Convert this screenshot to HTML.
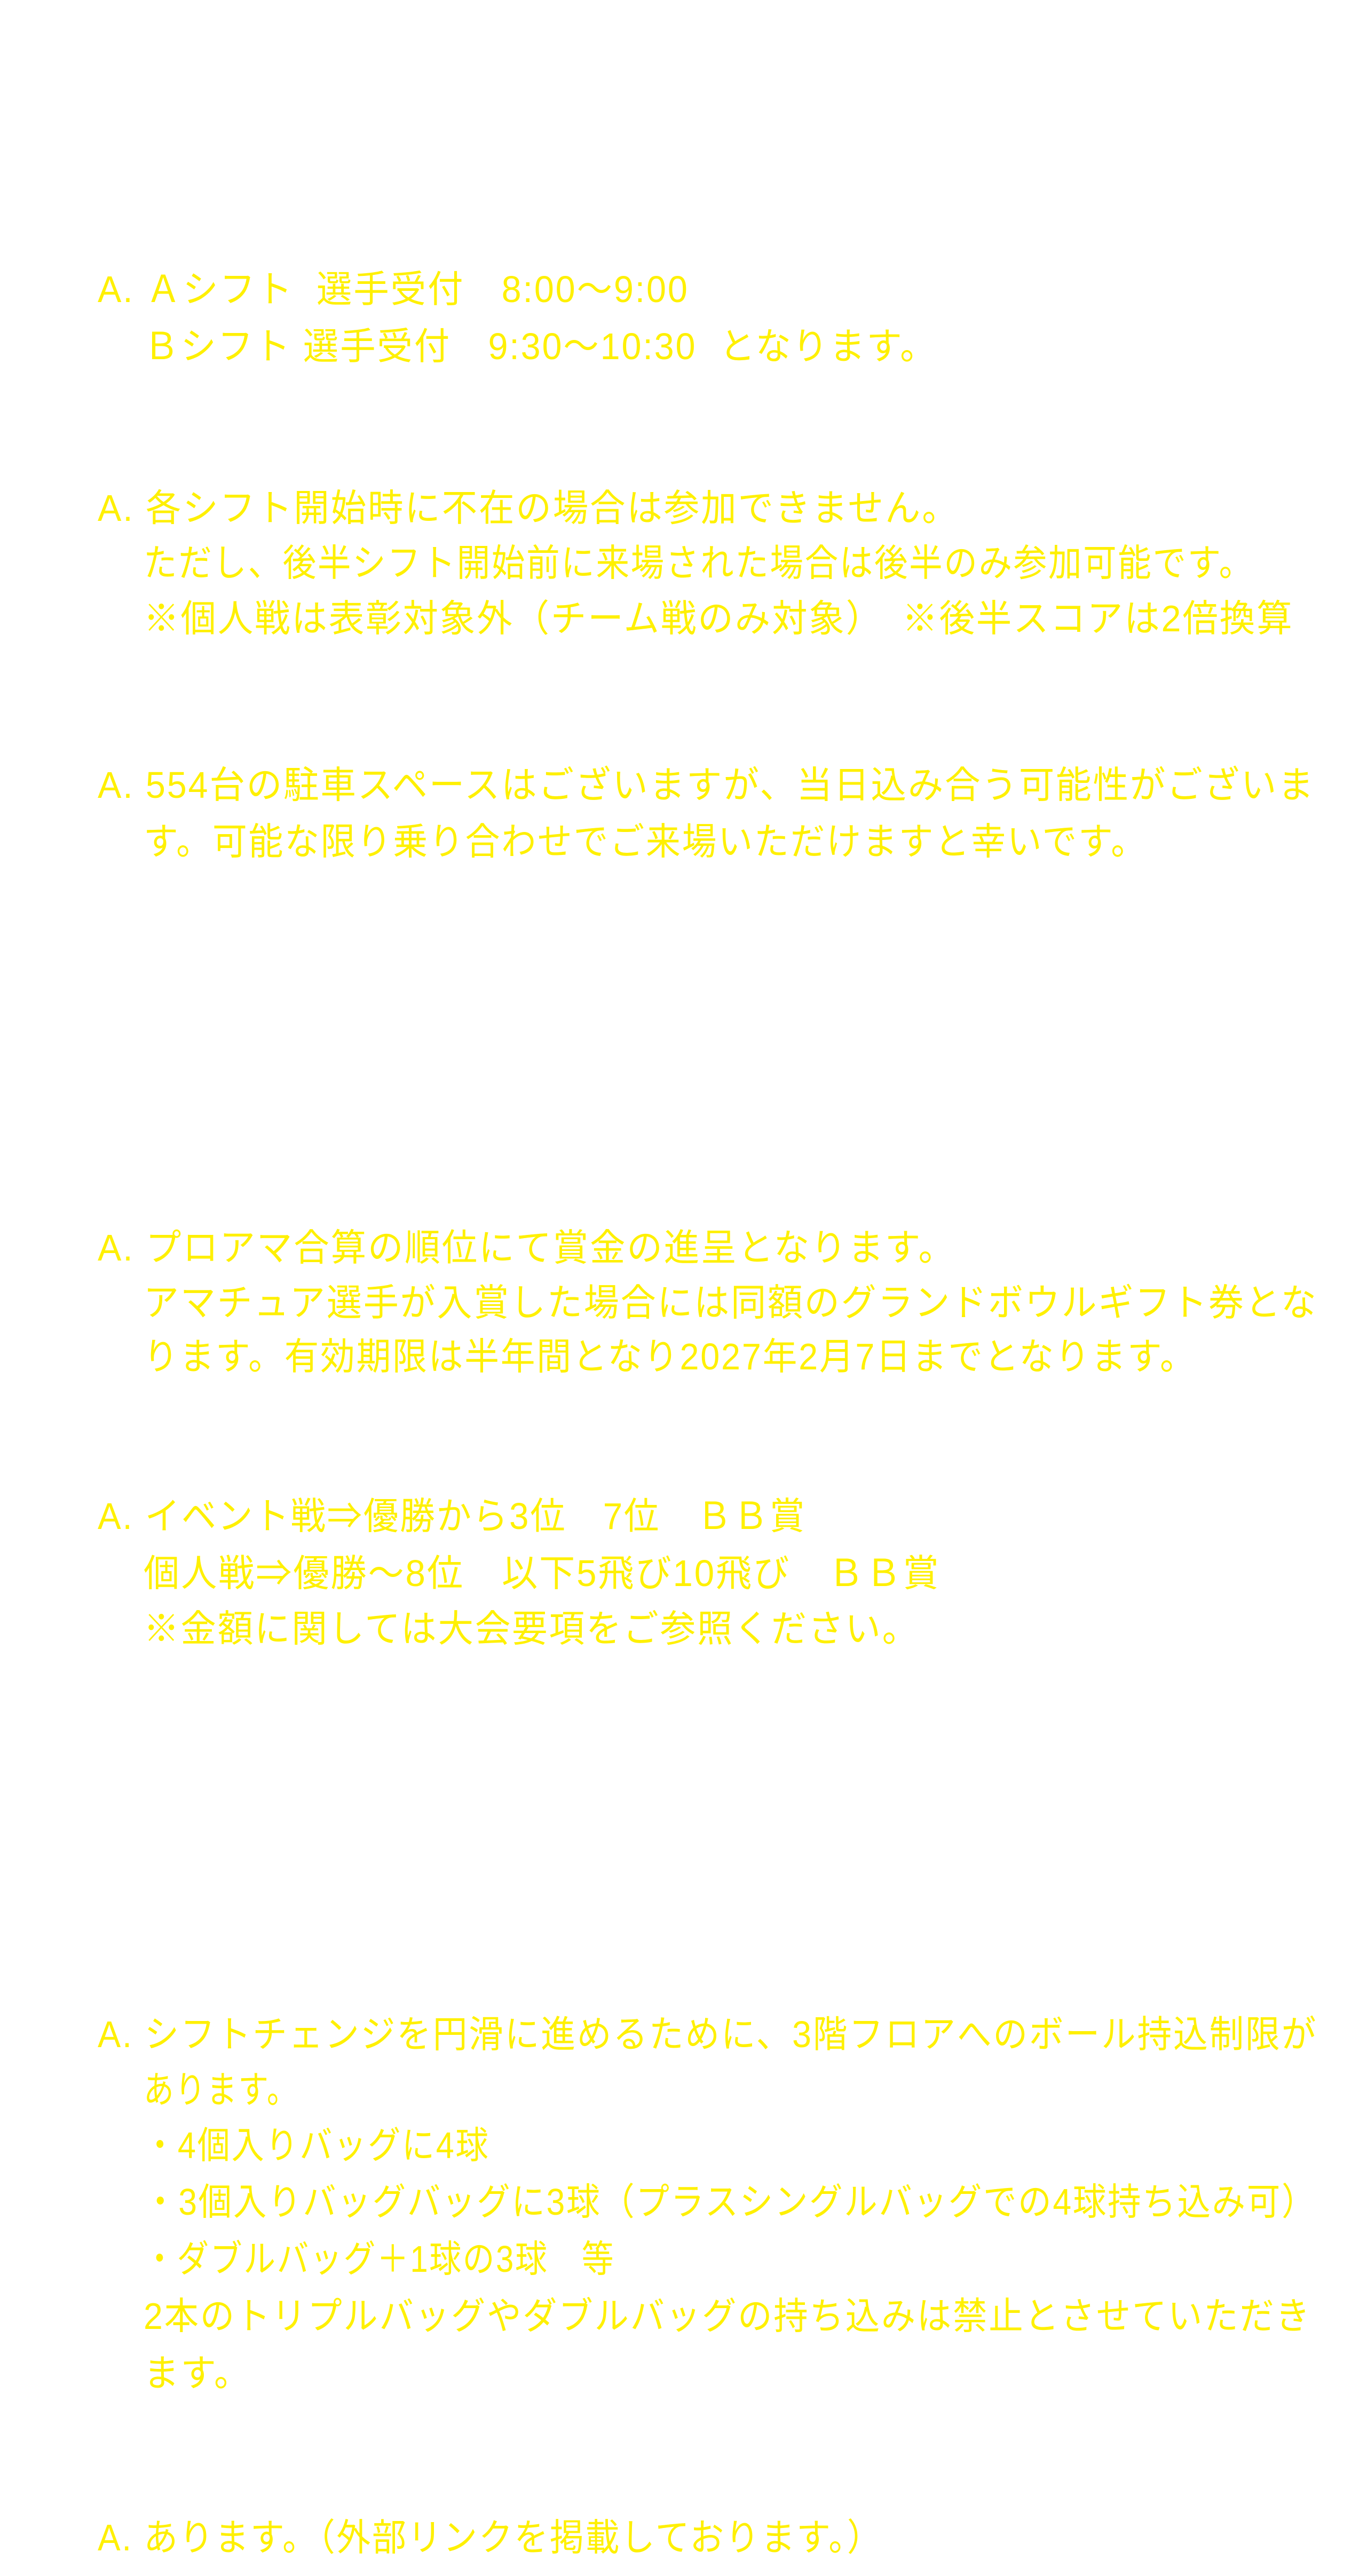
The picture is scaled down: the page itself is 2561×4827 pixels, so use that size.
<!DOCTYPE html>
<html><head><meta charset="utf-8"><style>
html,body{margin:0;padding:0;background:#fff;}
body{width:2561px;height:4827px;position:relative;overflow:hidden;}
.l{position:absolute;white-space:pre;color:#fff000;font-family:"Liberation Sans","Noto Sans CJK JP",sans-serif;font-size:70px;line-height:100px;height:100px;letter-spacing:3px;transform:scaleX(0.95);transform-origin:0 50%;}
.a{left:183px}.i{left:269px}
</style></head><body>
<div class="l a" style="top:492px">A. Ａシフト  選手受付　8:00～9:00</div>
<div class="l i" style="top:599px">Ｂシフト 選手受付　9:30～10:30  となります。</div>
<div class="l a" style="top:902px">A. 各シフト開始時に不在の場合は参加できません。</div>
<div class="l i" style="top:1005px;transform:scaleX(0.893)">ただし、後半シフト開始前に来場された場合は後半のみ参加可能です。</div>
<div class="l i" style="top:1109px">※個人戦は表彰対象外（チーム戦のみ対象）　※後半スコアは2倍換算</div>
<div class="l a" style="top:1421px">A. 554台の駐車スペースはございますが、当日込み合う可能性がございま</div>
<div class="l i" style="top:1527px;transform:scaleX(0.927)">す。可能な限り乗り合わせでご来場いただけますと幸いです。</div>
<div class="l a" style="top:2288px">A. プロアマ合算の順位にて賞金の進呈となります。</div>
<div class="l i" style="top:2391px;transform:scaleX(0.943)">アマチュア選手が入賞した場合には同額のグランドボウルギフト券とな</div>
<div class="l i" style="top:2492px;transform:scaleX(0.925)">ります。有効期限は半年間となり2027年2月7日までとなります。</div>
<div class="l a" style="top:2791px;transform:scaleX(0.935)">A. イベント戦⇒優勝から3位　7位　ＢＢ賞</div>
<div class="l i" style="top:2898px;transform:scaleX(0.96)">個人戦⇒優勝～8位　以下5飛び10飛び　ＢＢ賞</div>
<div class="l i" style="top:3002px">※金額に関しては大会要項をご参照ください。</div>
<div class="l a" style="top:3762px;transform:scaleX(0.925)">A. シフトチェンジを円滑に進めるために、3階フロアへのボール持込制限が</div>
<div class="l i" style="top:3866px;transform:scaleX(0.81)">あります。</div>
<div class="l i" style="top:3970px;transform:scaleX(0.875)">・4個入りバッグに4球</div>
<div class="l i" style="top:4076px;transform:scaleX(0.893)">・3個入りバッグバッグに3球（プラスシングルバッグでの4球持ち込み可）</div>
<div class="l i" style="top:4183px;transform:scaleX(0.855)">・ダブルバッグ＋1球の3球　等</div>
<div class="l i" style="top:4290px;transform:scaleX(0.92)">2本のトリプルバッグやダブルバッグの持ち込みは禁止とさせていただき</div>
<div class="l i" style="top:4397px">ます。</div>
<div class="l a" style="top:4705px;transform:scaleX(0.912)">A. あります。（外部リンクを掲載しております。）</div>
</body></html>
